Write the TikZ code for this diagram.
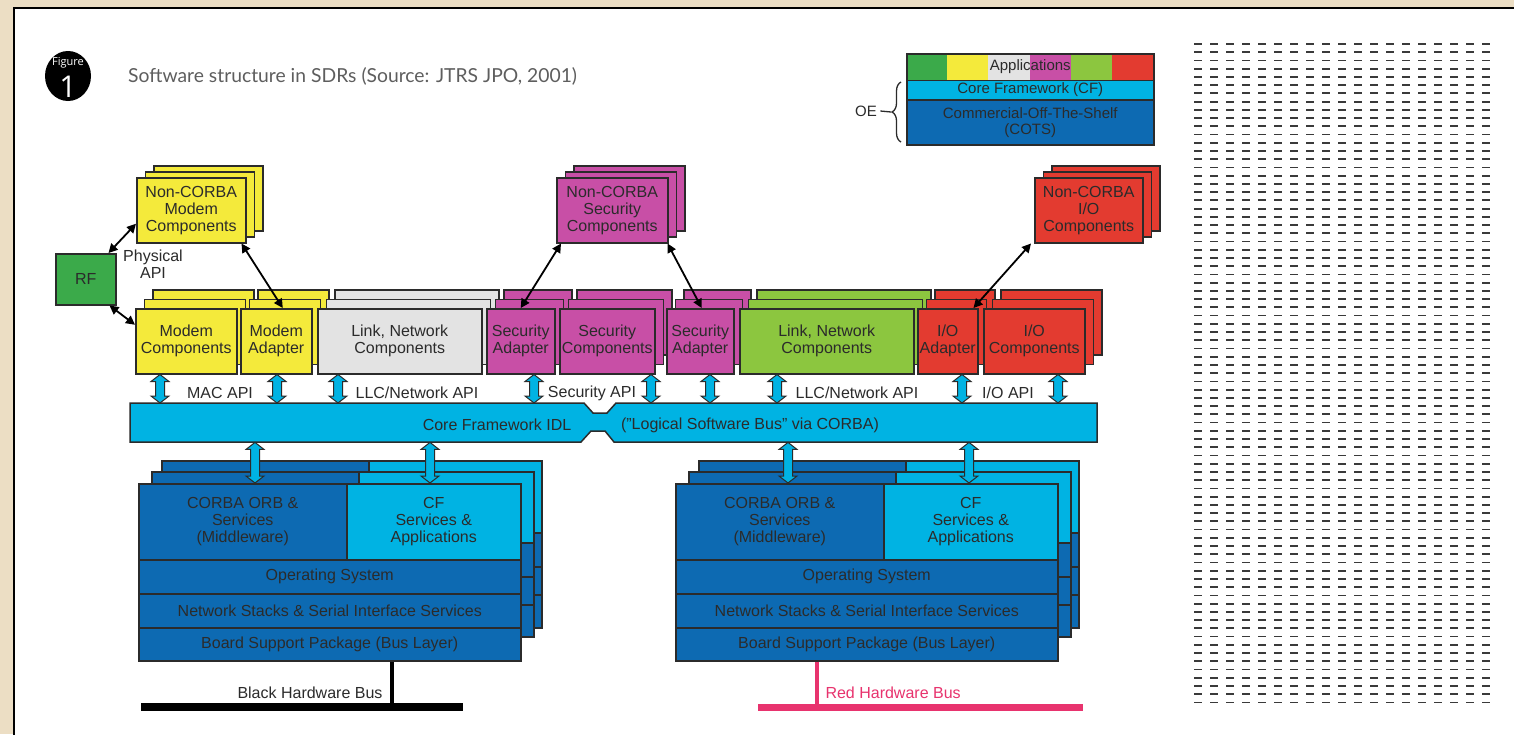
\documentclass[tikz,border=0pt]{standalone}
\usepackage{fontspec}
\setmainfont{Liberation Sans}
\newfontfamily\capfont{Lato}
\newfontfamily\badgefont{Open Sans}
\usetikzlibrary{arrows.meta,shadows,calc,decorations.pathreplacing,shapes.geometric}

\definecolor{beige}{HTML}{ECDEC4}
\definecolor{ylw}{HTML}{F4EA3B}
\definecolor{lgrey}{HTML}{E3E3E3}
\definecolor{mag}{HTML}{C84FA6}
\definecolor{lgreen}{HTML}{8CC63F}
\definecolor{redc}{HTML}{E33B30}
\definecolor{rfgreen}{HTML}{3BAA4A}
\definecolor{cyanb}{HTML}{00B3E3}
\definecolor{dblue}{HTML}{0D6AB2}
\definecolor{pinkbus}{HTML}{E8336E}
\definecolor{txt}{HTML}{2B2B2B}
\definecolor{capgrey}{HTML}{5E5E5E}
\definecolor{gridc}{HTML}{3A3A3A}

\tikzset{
  lbl/.style={text=txt, font=\fontsize{16}{17}\selectfont, align=center},
  box/.style={lbl, draw=txt, line width=1.5pt, anchor=north west, inner sep=0pt},
  stackA/.style={double copy shadow={shadow xshift=8.5pt, shadow yshift=9.5pt}},
  stackB/.style={double copy shadow={shadow xshift=8.5pt, shadow yshift=6pt}},
  conn/.style={line width=1.8pt, draw=black,
    {Triangle[length=9pt,width=9pt]}-{Triangle[length=9pt,width=9pt]}},
  api/.style={draw=txt, line width=1pt, fill=cyanb, to path={
    let \p1=(\tikztostart), \p2=(\tikztotarget) in
    (\x1,\y1) -- (\x1+9pt,\y1-7pt) -- (\x1+4.5pt,\y1-7pt) -- (\x1+4.5pt,\y2+7pt)
    -- (\x1+9pt,\y2+7pt) -- (\x1,\y2) -- (\x1-9pt,\y2+7pt) -- (\x1-4.5pt,\y2+7pt)
    -- (\x1-4.5pt,\y1-7pt) -- (\x1-9pt,\y1-7pt) -- cycle}},
  layer/.style={draw=txt, line width=1.5pt},
  gridline/.style={draw=gridc, line width=1.8pt, dash pattern=on 8pt off 8pt},
}

\begin{document}
\begin{tikzpicture}[x=1pt,y=-1pt]
\useasboundingbox (0,0) rectangle (1514,734);

% page frame
\fill[beige] (0,0) rectangle (1514,734);
\fill[white] (14,8) rectangle (1520,740);
\draw[line width=1.5pt] (14,740) -- (14,8) -- (1520,8);

% figure badge and caption
\node[ellipse, fill=black, minimum width=46pt, minimum height=50pt, inner sep=0pt] (badge) at (68,76) {};
\node[text=white, font=\badgefont\fontsize{11}{12}\selectfont] (badgetop) at (68,63) {Figure};
\node[text=white, font=\badgefont\fontsize{30}{30}\selectfont] (badgenum) at (68,87) {1};
\node[anchor=west, inner sep=0pt, text=capgrey, font=\capfont\fontsize{19.3}{22}\selectfont] (caption) at (128,76)
  {Software structure in SDRs (Source: JTRS JPO, 2001)};

% legend
\foreach \c [count=\i from 0] in {rfgreen, ylw, lgrey, mag, lgreen, redc}
  \fill[\c] (906+\i*41.17,53) rectangle ++(41.17,26.5);
\node[box, minimum width=247pt, minimum height=26.5pt, font=\fontsize{15}{16}\selectfont] (apps) at (906,53) {Applications};
\node[box, fill=cyanb, minimum width=247pt, minimum height=19.5pt, font=\fontsize{15}{16}\selectfont] (cfleg) at (906,79.5) {Core Framework (CF)};
\node[box, fill=dblue, minimum width=247pt, minimum height=45pt, font=\fontsize{15}{16}\selectfont] (cots) at (906,99) {Commercial-Off-The-Shelf\\(COTS)};
\draw[decorate, decoration={brace, amplitude=9pt}, line width=1.3pt, draw=txt] (901,142) -- (901,82);
\coordinate (bracetip) at (891,112);
\node[lbl, font=\fontsize{15}{16}\selectfont] (oe) at (866,111) {OE};
\draw[line width=1.3pt, draw=txt] (oe.east) -- (bracetip);

% top row: non-CORBA components and RF
\node[box, stackB, fill=ylw, minimum width=109pt, minimum height=65pt] (ncmodem) at (136,177) {Non-CORBA\\Modem\\Components};
\node[box, stackB, fill=mag, minimum width=111pt, minimum height=65pt] (ncsec) at (556,177) {Non-CORBA\\Security\\Components};
\node[box, stackB, fill=redc, minimum width=108pt, minimum height=65pt] (ncio) at (1034,177) {Non-CORBA\\I/O\\Components};
\node[box, fill=rfgreen, minimum width=60pt, minimum height=51pt] (rf) at (55,253) {RF};
\node[lbl] (phys) at (153,264) {Physical\\API};

% second row: CORBA components and adapters
\node[box, stackA, fill=ylw, minimum width=101pt, minimum height=65pt] (mcomp) at (135,308) {Modem\\Components};
\node[box, stackA, fill=ylw, minimum width=71pt, minimum height=65pt] (madp) at (240,308) {Modem\\Adapter};
\node[box, stackA, fill=lgrey, minimum width=164pt, minimum height=65pt] (lnk1) at (317,308) {Link, Network\\Components};
\node[box, stackA, fill=mag, minimum width=68pt, minimum height=65pt] (sad1) at (486,308) {Security\\Adapter};
\node[box, stackA, fill=mag, minimum width=95pt, minimum height=65pt] (scomp) at (559,308) {Security\\Components};
\node[box, stackA, fill=mag, minimum width=67pt, minimum height=65pt] (sad2) at (666,308) {Security\\Adapter};
\node[box, stackA, fill=lgreen, minimum width=174pt, minimum height=65pt] (lnk2) at (739,308) {Link, Network\\Components};
\node[box, stackA, fill=redc, minimum width=60pt, minimum height=65pt] (ioad) at (917,308) {I/O\\Adapter};
\node[box, stackA, fill=redc, minimum width=101pt, minimum height=65pt] (iocomp) at (983,308) {I/O\\Components};

% non-CORBA links
\draw[conn] ([xshift=-8pt]rf.north east) -- ([yshift=-13.5pt]ncmodem.west);
\draw[conn] ([xshift=-7pt]rf.south east) -- ([yshift=16.5pt]mcomp.west);
\draw[conn] ([xshift=-5pt]ncmodem.south east) -- ([xshift=6.5pt]madp.north);
\draw[conn] ([xshift=5pt]ncsec.south west) -- (sad1.north);
\draw[conn] ([xshift=-1pt]ncsec.south east) -- ([xshift=1.5pt]sad2.north);
\draw[conn] ([xshift=-3pt]ncio.south west) -- ([xshift=-5pt]ioad.north east);

% core framework bus
\node[minimum width=967pt, minimum height=39pt, anchor=north west, inner sep=0pt] (bus) at (130,403) {};
\draw[fill=cyanb, draw=txt, line width=1.5pt]
  (130,403) -- (584,403) -- (593,413) -- (607,413) -- (616,403) -- (1097,403)
  -- (1097,442) -- (614,442) -- (605,431) -- (591,431) -- (581,442) -- (130,442) -- cycle;
\node[lbl] (busa) at (497,425) {Core Framework IDL};
\node[lbl] (busb) at (750,425) {("Logical Software Bus" via CORBA)};

% API labels
\node[lbl] (macapi) at (220,393) {MAC API};
\node[lbl] (llc1) at (417,393) {LLC/Network API};
\node[lbl] (secapi) at (592,393) {Security API};
\node[lbl] (llc2) at (857,393) {LLC/Network API};
\node[lbl] (ioapi) at (1008,393) {I/O API};

% API arrows to the bus
\foreach \n/\d in {mcomp/25, madp/37, lnk1/21, sad1/48, scomp/92, sad2/44, lnk2/38, ioad/45, iocomp/75}
  \draw[api] ([xshift=\d pt]\n.south west) to ([xshift=\d pt]\n.south west |- bus.north);

% processor stacks: back layers
\foreach \x in {138,675} {
  \fill[dblue] (\x+24,461) rectangle (\x+404,628);
  \fill[cyanb] (\x+231,461) rectangle (\x+404,533);
  \draw[layer] (\x+24,461) rectangle (\x+404,628);
  \draw[layer] (\x+231,461) -- (\x+231,533) -- (\x+404,533);
  \draw[layer] (\x+24,567) -- (\x+404,567) (\x+24,595) -- (\x+404,595);
  \fill[dblue] (\x+14,472) rectangle (\x+396,637);
  \fill[cyanb] (\x+221,472) rectangle (\x+396,543);
  \draw[layer] (\x+14,472) rectangle (\x+396,637);
  \draw[layer] (\x+221,472) -- (\x+221,543) -- (\x+396,543);
  \draw[layer] (\x+14,577) -- (\x+396,577) (\x+14,605) -- (\x+396,605);
}

% processor stacks: front layers
\node[box, fill=dblue, minimum width=208pt, minimum height=76pt] (corbaL) at (138,483) {CORBA ORB \&\\Services\\(Middleware)};
\node[box, fill=cyanb, minimum width=174pt, minimum height=76pt] (cfL) at (346,483) {CF\\Services \&\\Applications};
\node[box, fill=dblue, minimum width=382pt, minimum height=34pt] (osL) at (138,559) {Operating System};
\node[box, fill=dblue, minimum width=382pt, minimum height=34pt] (nsL) at (138,593) {Network Stacks \& Serial Interface Services};
\node[box, fill=dblue, minimum width=382pt, minimum height=33pt] (bspL) at (138,627) {Board Support Package (Bus Layer)};

\node[box, fill=dblue, minimum width=208pt, minimum height=76pt] (corbaR) at (675,483) {CORBA ORB \&\\Services\\(Middleware)};
\node[box, fill=cyanb, minimum width=174pt, minimum height=76pt] (cfR) at (883,483) {CF\\Services \&\\Applications};
\node[box, fill=dblue, minimum width=382pt, minimum height=34pt] (osR) at (675,559) {Operating System};
\node[box, fill=dblue, minimum width=382pt, minimum height=34pt] (nsR) at (675,593) {Network Stacks \& Serial Interface Services};
\node[box, fill=dblue, minimum width=382pt, minimum height=33pt] (bspR) at (675,627) {Board Support Package (Bus Layer)};

% bus to processor stacks
\foreach \n/\d in {corbaL/117, cfL/84, corbaR/113, cfR/86}
  \draw[api] ([xshift=\d pt]\n.north west |- bus.south) to ([xshift=\d pt]\n.north west);

% hardware buses
\node[fill=black, minimum width=322pt, minimum height=8pt, inner sep=0pt, anchor=north west] (blackbar) at (141,703) {};
\draw[line width=4pt] ([xshift=254pt]bspL.south west) -- ([xshift=254pt]bspL.south west |- blackbar.north);
\node[lbl, anchor=east] (blackl) at (386,693) {Black Hardware Bus};

\node[fill=pinkbus, minimum width=325pt, minimum height=7pt, inner sep=0pt, anchor=north west] (redbar) at (758,704) {};
\draw[line width=3.5pt, draw=pinkbus] ([xshift=142pt]bspR.south west) -- ([xshift=142pt]bspR.south west |- redbar.north);
\node[lbl, anchor=west, text=pinkbus] (redl) at (822,693) {Red Hardware Bus};

% ruled column on the right
\foreach \i in {0,...,80}
  \draw[gridline] (1194,44+\i*8.23) -- (1490,44+\i*8.23);

\end{tikzpicture}
\end{document}
